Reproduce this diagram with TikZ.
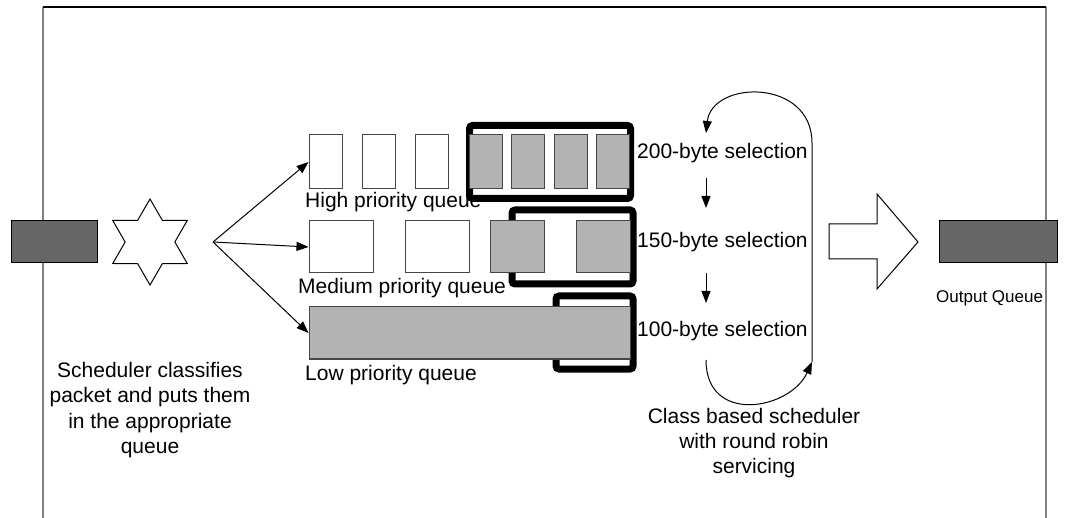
\documentclass[tikz,border=0pt]{standalone}
\usepackage{fontspec}
\setmainfont{Liberation Sans}
\usepackage{tikz}
\usetikzlibrary{arrows.meta, shapes.geometric}
\definecolor{portgray}{RGB}{102,102,102}
\definecolor{pktgray}{RGB}{179,179,179}
\definecolor{pktedge}{RGB}{70,70,70}
\definecolor{railgray}{RGB}{128,128,128}

\begin{document}
\begin{tikzpicture}[
  x=1pt, y=-1pt,
  rail/.style={draw=railgray, line width=2pt},
  port/.style={rectangle, draw=black, fill=portgray, line width=1pt,
               minimum height=42pt, inner sep=0pt},
  slot/.style={rectangle, draw=pktedge, fill=white, line width=1pt,
               inner sep=0pt},
  held/.style={slot, fill=pktgray},
  hslot/.style={minimum width=33pt, minimum height=54pt},
  mslot/.style={minimum width=64pt, minimum height=52pt},
  qbox/.style={draw=black, line width=7pt, rounded corners=3pt},
  feed/.style={draw=black, line width=1pt,
               -{Triangle[length=12pt, width=9pt]}},
  txt/.style={font=\fontsize{21}{25.3}\selectfont, inner sep=0pt}]
  \useasboundingbox (0,0) rectangle (1065,518);
  \draw[rail] (43,518) -- (43,7);
  \draw[rail] (1046,7) -- (1046,518);
  \draw[black, line width=1.5pt] (43,7) -- (1046,7);
  % queue labels sit under the frames
  \node[txt, anchor=base west] (hlbl) at (305,208) {High priority queue};
  \node[txt, anchor=base west] (mlbl) at (298,294) {Medium priority queue};
  \node[txt, anchor=base west] (llbl) at (305,381) {Low priority queue};
  \draw[qbox] (469.5,125.5) rectangle (630.5,198.5);
  \draw[qbox] (512,210) rectangle (633,284);
  \draw[qbox] (556,296) rectangle (633,369);
  % high priority
  \node[slot, hslot] (h1) at (325.5,162) {};
  \node[slot, hslot] (h2) at (378.5,162) {};
  \node[slot, hslot] (h3) at (432,162) {};
  \node[held, hslot] (h4) at (485.5,162) {};
  \node[held, hslot] (h5) at (528,162) {};
  \node[held, hslot] (h6) at (571,162) {};
  \node[held, hslot] (h7) at (613,162) {};
  % medium priority
  \node[slot, mslot] (m1) at (341,247) {};
  \node[slot, mslot] (m2) at (437,247) {};
  \node[held, mslot, minimum width=54pt] (m3) at (517,247) {};
  \node[held, mslot, minimum width=54pt] (m4) at (603,247) {};
  % low priority
  \node[held, minimum width=321pt, minimum height=52pt] (lowbar) at (469.5,333) {};
  \node[port, minimum width=86pt] (inq) at (54,242) {};
  \node[star, star points=6, star point ratio=1.73, minimum size=86pt,
        inner sep=0pt, draw=black, fill=white, line width=1pt] (sched) at (150,242) {};
  \coordinate (fan) at (213,242);
  \draw[feed] (fan) -- (h1.west);
  \draw[feed] (fan) -- (m1.west);
  \draw[feed] (fan) -- (lowbar.west);
  \node[txt, align=center] (schedtxt) at (150,410)
    {Scheduler classifies\\packet and puts them\\in the appropriate\\queue};
  \node[txt, anchor=base west] (sel200) at (637,159) {200-byte selection};
  \node[txt, anchor=base west] (sel150) at (637,248) {150-byte selection};
  \node[txt, anchor=base west] (sel100) at (637,337) {100-byte selection};
  \coordinate (d1a) at (706,178);
  \coordinate (d1b) at (706,208);
  \coordinate (d2a) at (706,273);
  \coordinate (d2b) at (706,303);
  \draw[feed] (d1a) -- (d1b);
  \draw[feed] (d2a) -- (d2b);
  \coordinate (rrtop) at (706,133);
  \coordinate (rrright) at (812,143);
  \coordinate (rrturn) at (812,362);
  \coordinate (rrbot) at (706,360);
  \draw[feed] (rrbot) .. controls (706,425) and (790,410) .. (rrturn);
  \draw[feed] (rrturn) -- (rrright) .. controls (812,78) and (712,80) .. (rrtop);
  \node[txt, align=center] (rrtxt) at (754,443)
    {Class based scheduler\\with round robin\\servicing};
  \draw[black, line width=1pt, fill=white] (829,224) -- (877,224) -- (877,194)
    -- (918,242) -- (877,289) -- (877,259) -- (829,259) -- cycle;
  \node[port, minimum width=118pt] (outq) at (998,242) {};
  \node[txt, font=\fontsize{17}{20}\selectfont, anchor=base west] (outlbl)
    at (936,303) {Output Queue};
\end{tikzpicture}
\end{document}
